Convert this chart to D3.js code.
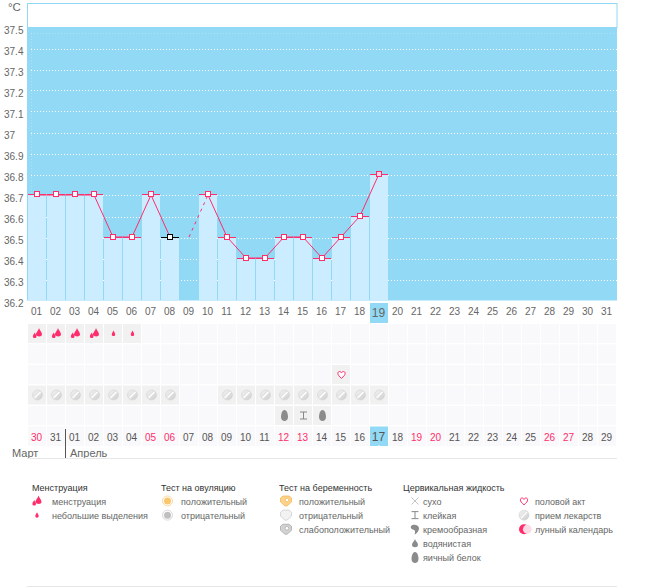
<!DOCTYPE html>
<html><head><meta charset="utf-8">
<script src="https://cdn.jsdelivr.net/npm/d3@7/dist/d3.min.js"></script>
<style>
html,body{margin:0;padding:0;background:#fefffe;overflow:hidden}
svg{display:block}
text{font-family:"Liberation Sans",sans-serif;font-size:10px;fill:#666}
</style></head><body><svg id="c" width="655" height="587"></svg>
<script>
const days=["01","02","03","04","05","06","07","08","09","10","11","12","13","14","15","16","17","18","19","20","21","22","23","24","25","26","27","28","29","30","31"];
const cycleDates=["30","31","01","02","03","04","05","06","07","08","09","10","11","12","13","14","15","16","17","18","19","20","21","22","23","24","25","26","27","28","29"];
const redDates=[0,6,7,13,14,20,21,27,28];
const tempTicks=[36.2,36.3,36.4,36.5,36.6,36.7,36.8,36.9,37,37.1,37.2,37.3,37.4,37.5];
const temps=[36.7,36.7,36.7,36.7,36.5,36.5,36.7,36.5,null,36.7,36.5,36.4,36.4,36.5,36.5,36.4,36.5,36.6,36.8];
const excludedDay=8, excludedTemp=36.5, blackDay=7, todayIdx=18;
const rowMens=[["big",0],["big",1],["big",2],["big",3],["small",4],["small",5]];
const rowHeart=[["heart",16]];
const rowPills=[0,1,2,3,4,5,6,7,10,11,12,13,14,15,16,17,18].map(d=>["pill",d]);
const rowFluid=[["egg",13],["sticky",14],["egg",15]];
const legendTitles=[["Менструация",32],["Тест на овуляцию",161],["Тест на беременность",279],["Цервикальная жидкость",403]];
const legendItems=[
 ["менструация",52,0,"big",37],["небольшие выделения",52,1,"small",37],
 ["положительный",181,0,"ovuPos",167.5],["отрицательный",181,1,"ovuNeg",167.5],
 ["положительный",299,0,"pregPos",286],["отрицательный",299,1,"pregNeg",286],["слабоположительный",299,2,"pregWeak",286],
 ["сухо",423,0,"dry",415],["клейкая",423,1,"sticky",415],["кремообразная",423,2,"creamy",415],["водянистая",423,3,"watery",415],["яичный белок",423,4,"egg",415],
 ["половой акт",535,0,"heart",524],["прием лекарств",535,1,"pill",524],["лунный календарь",535,2,"moon",524]];

const PINK="#ff2d6b",SKY="#92d9f5",LIGHT="#ccedff";
const svg=d3.select("#c");
const defs=svg.append("defs");
const pg=defs.append("linearGradient").attr("id","pillG").attr("x1",0).attr("y1",0).attr("x2",1).attr("y2",1);
pg.append("stop").attr("offset",0).attr("stop-color","#f4f4f4");
pg.append("stop").attr("offset",1).attr("stop-color","#cdcdcd");
const x=d3.scaleBand().domain(d3.range(31)).range([28,617]);
const y=d3.scaleLinear().domain([36.2,37.5]).range([300.5,27.5]);
const cx=i=>x(i)+x.bandwidth()/2-0.5;
const cw=x.bandwidth()-1;

svg.append("rect").attr("x",27.5).attr("y",3.5).attr("width",589.5).attr("height",24).attr("fill","#fff").attr("stroke",SKY);
svg.append("rect").attr("x",27).attr("y",y(37.5)).attr("width",590).attr("height",y(36.2)-y(37.5)).attr("fill",SKY);
svg.append("g").selectAll("line").data(tempTicks.filter(t=>t<37.5)).join("line")
 .attr("x1",31).attr("x2",617).attr("y1",d=>Math.round(y(d))+.5).attr("y2",d=>Math.round(y(d))+.5)
 .attr("stroke","#fff").attr("stroke-dasharray","1 2");
svg.append("line").attr("x1",31).attr("x2",617).attr("y1",33.5).attr("y2",33.5).attr("stroke","#fff").attr("stroke-opacity",.25).attr("stroke-dasharray","1 2");
svg.append("line").attr("x1",31.5).attr("x2",31.5).attr("y1",33).attr("y2",195).attr("stroke","#fff").attr("stroke-opacity",.25).attr("stroke-dasharray","1 2");
svg.append("g").selectAll("rect").data(temps.map((v,i)=>({v,i})).filter(d=>d.v!=null)).join("rect")
 .attr("x",d=>x(d.i)).attr("width",cw).attr("y",d=>Math.round(y(d.v))).attr("height",d=>y(36.2)-Math.round(y(d.v))).attr("fill",LIGHT);
const yAxis=svg.append("g").attr("transform","translate(4,2.5)").call(d3.axisLeft(y).tickValues(tempTicks).tickSize(0).tickFormat(d=>String(d)));
yAxis.select(".domain").remove();
yAxis.selectAll("text").attr("text-anchor","start").attr("x",0).attr("dy","0.36em").style("font-size","10px").style("fill","#666");
svg.append("text").attr("x",8).attr("y",11).text("°C").style("font-size","11.5px");

svg.append("rect").attr("x",x(todayIdx)).attr("y",303).attr("width",cw).attr("height",20).attr("fill",SKY);
const xAxis=svg.append("g").attr("transform","translate(-1,300)").call(d3.axisBottom(x).tickFormat(i=>days[i]).tickSize(0).tickPadding(8));
xAxis.select(".domain").remove();
xAxis.selectAll("text").style("font-size",i=>i===todayIdx?"12px":"10px").style("fill","#666");

const pts=temps.map((v,i)=>({v,i}));
const solidRuns=[pts.slice(0,8),pts.slice(9)];
const line=d3.line().x(d=>cx(d.i)).y(d=>y(d.v)-.5);
solidRuns.forEach(r=>svg.append("path").attr("d",line(r)).attr("fill","none").attr("stroke",PINK).attr("stroke-width",1));
svg.append("path").attr("d",line([{i:excludedDay,v:excludedTemp},pts[9]])).attr("fill","none").attr("stroke",PINK).attr("stroke-dasharray","3 4");
const real=pts.filter(d=>d.v!=null);
svg.append("g").selectAll("line").data(real).join("line")
 .attr("x1",d=>x(d.i)).attr("x2",d=>x(d.i)+cw).attr("y1",d=>Math.round(y(d.v))-.5).attr("y2",d=>Math.round(y(d.v))-.5)
 .attr("stroke",d=>d.i===blackDay?"#000":PINK);
svg.append("g").selectAll("rect").data(real).join("rect")
 .attr("x",d=>Math.round(cx(d.i))-2.5).attr("y",d=>Math.round(y(d.v))-3.5).attr("width",5).attr("height",5)
 .attr("fill",d=>d.i===todayIdx?"#ffd9e4":"#fff").attr("stroke",d=>d.i===blackDay?"#000":PINK);

function icon(g,t){
 if(t==="big"){
  g.append("path").attr("d","M1.5,-5.5C2.2,-3 4.5,-1.5 4.5,1C4.5,3.5 -0.5,3.5 -1.5,1.5C-1.8,-1 0.8,-2.5 1.5,-5.5Z").attr("fill",PINK);
  g.append("path").attr("d","M-2.8,-1C-2.2,.5 -1,1.3 -1,3C-1,5 -4.6,5 -4.6,3C-4.6,1.3 -3.2,.3 -2.8,-1Z").attr("fill",PINK);
 }else if(t==="small"){
  g.append("path").attr("d","M0,-3C.6,-1.3 1.7,-.6 1.7,1.2C1.7,3 -1.7,3 -1.7,1.2C-1.7,-.6 -.6,-1.3 0,-3Z").attr("fill",PINK);
 }else if(t==="pill"){
  g.append("circle").attr("r",5).attr("fill","url(#pillG)").attr("stroke","#d2d2d2").attr("stroke-width",.6);
  g.append("line").attr("x1",-3).attr("y1",3).attr("x2",3).attr("y2",-3).attr("stroke","#fff").attr("stroke-width",1.3);
 }else if(t==="heart"){
  g.append("path").attr("d","M0,3.8C-2.5,1.8 -3.6,.3 -3.6,-1.2C-3.6,-3.4 -1,-3.7 0,-1.6C1,-3.7 3.6,-3.4 3.6,-1.2C3.6,.3 2.5,1.8 0,3.8Z").attr("fill","#fff").attr("stroke",PINK).attr("stroke-width",1);
 }else if(t==="egg"){
  g.append("path").attr("d","M0,-5.5C2.5,-5.5 3.5,-1 3.5,1.5C3.5,4 1.8,5.5 0,5.5C-1.8,5.5 -3.5,4 -3.5,1.5C-3.5,-1 -2.5,-5.5 0,-5.5Z").attr("fill","#8b8b8b");
 }else if(t==="sticky"){
  g.append("path").attr("d","M-3.5,-3.5H3.5M0,-3.5V3.5M-3.5,3.5H3.5").attr("fill","none").attr("stroke","#888").attr("stroke-width",1);
 }else if(t==="dry"){
  g.append("path").attr("d","M-3.5,-3.5L3.5,3.5M3.5,-3.5L-3.5,3.5").attr("stroke","#aaa").attr("stroke-width",.7);
 }else if(t==="creamy"){
  g.append("path").attr("d","M-4,-3C-2,-5.5 4,-4.5 4,-1C4,2 2,4 -.5,5.5C.5,3 0,1 -1,.5C-2.5,.5 -5,-1 -4,-3Z").attr("fill","#8b8b8b");
 }else if(t==="watery"){
  g.append("path").attr("d","M0,-4.5C.8,-2 3,-1 3,1.5C3,4.5 -3,4.5 -3,1.5C-3,-1 -.8,-2 0,-4.5Z").attr("fill","#8b8b8b");
 }else if(t==="ovuPos"||t==="ovuNeg"){
  const a=t==="ovuPos"?["#fbc66d","#f8dba5"]:["#c0c0c0","#d9d9d9"];
  g.append("circle").attr("r",5).attr("fill","#fff").attr("stroke",a[1]).attr("stroke-width",1);
  g.append("circle").attr("r",3.5).attr("fill",a[0]);
 }else if(t.startsWith("preg")){
  const a=t==="pregPos"?["#fbd38a","#f4b65a"]:t==="pregNeg"?["#f2f2f2","#cfcfcf"]:["#d2d2d2","#aaa"];
  g.append("path").attr("d","M-5.5,-3L-3,-5H3L5.5,-3V1L1,5H-1L-5.5,1Z").attr("fill",a[0]).attr("stroke",a[1]).attr("stroke-width",.8);
  if(t!=="pregNeg")g.append("circle").attr("cx",1).attr("cy",-1).attr("r",1.8).attr("fill","#fff").attr("stroke",a[1]).attr("stroke-width",.7);
 }else if(t==="moon"){
  g.append("circle").attr("r",5).attr("fill",PINK);
  g.append("circle").attr("cx",3.3).attr("r",4.4).attr("fill","#fbdce6");
 }
}

const rowY=d3.scaleBand().domain(d3.range(6)).range([324,447]);
const rows=[rowMens,[],rowHeart,rowPills,rowFluid];
rows.forEach((row,r)=>{
 const used=new Map(row.map(d=>[d[1],d[0]]));
 d3.range(31).forEach(i=>{
  const on=used.has(i);
  svg.append("rect").attr("x",x(i)).attr("y",rowY(r)).attr("width",cw).attr("height",19).attr("fill",on?"#f1f1f2":"#f9f8fa");
  if(on)icon(svg.append("g").attr("transform",`translate(${cx(i)+.5},${rowY(r)+9.5})`),used.get(i));
 });
});
d3.range(31).forEach(i=>{
 svg.append("rect").attr("x",x(i)).attr("y",rowY(5)).attr("width",cw).attr("height",19.5).attr("fill",i===todayIdx?SKY:"#f9f8fa");
});
svg.append("path").attr("d",`M${cx(todayIdx)-2},447 h4 l-2,-2Z`).attr("fill","#fff");
svg.append("g").selectAll("text").data(cycleDates).join("text")
 .attr("x",(d,i)=>cx(i)-.5).attr("y",441).attr("text-anchor","middle")
 .style("font-size",(d,i)=>i===todayIdx?"12px":"10px")
 .style("fill",(d,i)=>redDates.includes(i)?PINK:"#555").text(d=>d);

svg.append("line").attr("x1",65.5).attr("x2",65.5).attr("y1",429).attr("y2",458).attr("stroke","#555");
svg.append("text").attr("x",12).attr("y",457).text("Март").style("font-size","11px");
svg.append("text").attr("x",70).attr("y",457).text("Апрель").style("font-size","11px");
[458.5,586.5].forEach(v=>svg.append("line").attr("x1",27).attr("x2",617).attr("y1",v).attr("y2",v).attr("stroke","#e8e8e8"));

svg.append("g").selectAll("text").data(legendTitles).join("text").attr("x",d=>d[1]).attr("y",490.5).text(d=>d[0]).style("fill","#333").style("font-size","9px");
const ly=d3.scaleLinear().domain([0,4]).range([501,557.5]);
legendItems.forEach(d=>{
 svg.append("text").attr("x",d[1]).attr("y",ly(d[2])+3.5).text(d[0]).style("font-size","9px");
 icon(svg.append("g").attr("transform",`translate(${d[4]},${ly(d[2])})`),d[3]);
});
</script></body></html>
